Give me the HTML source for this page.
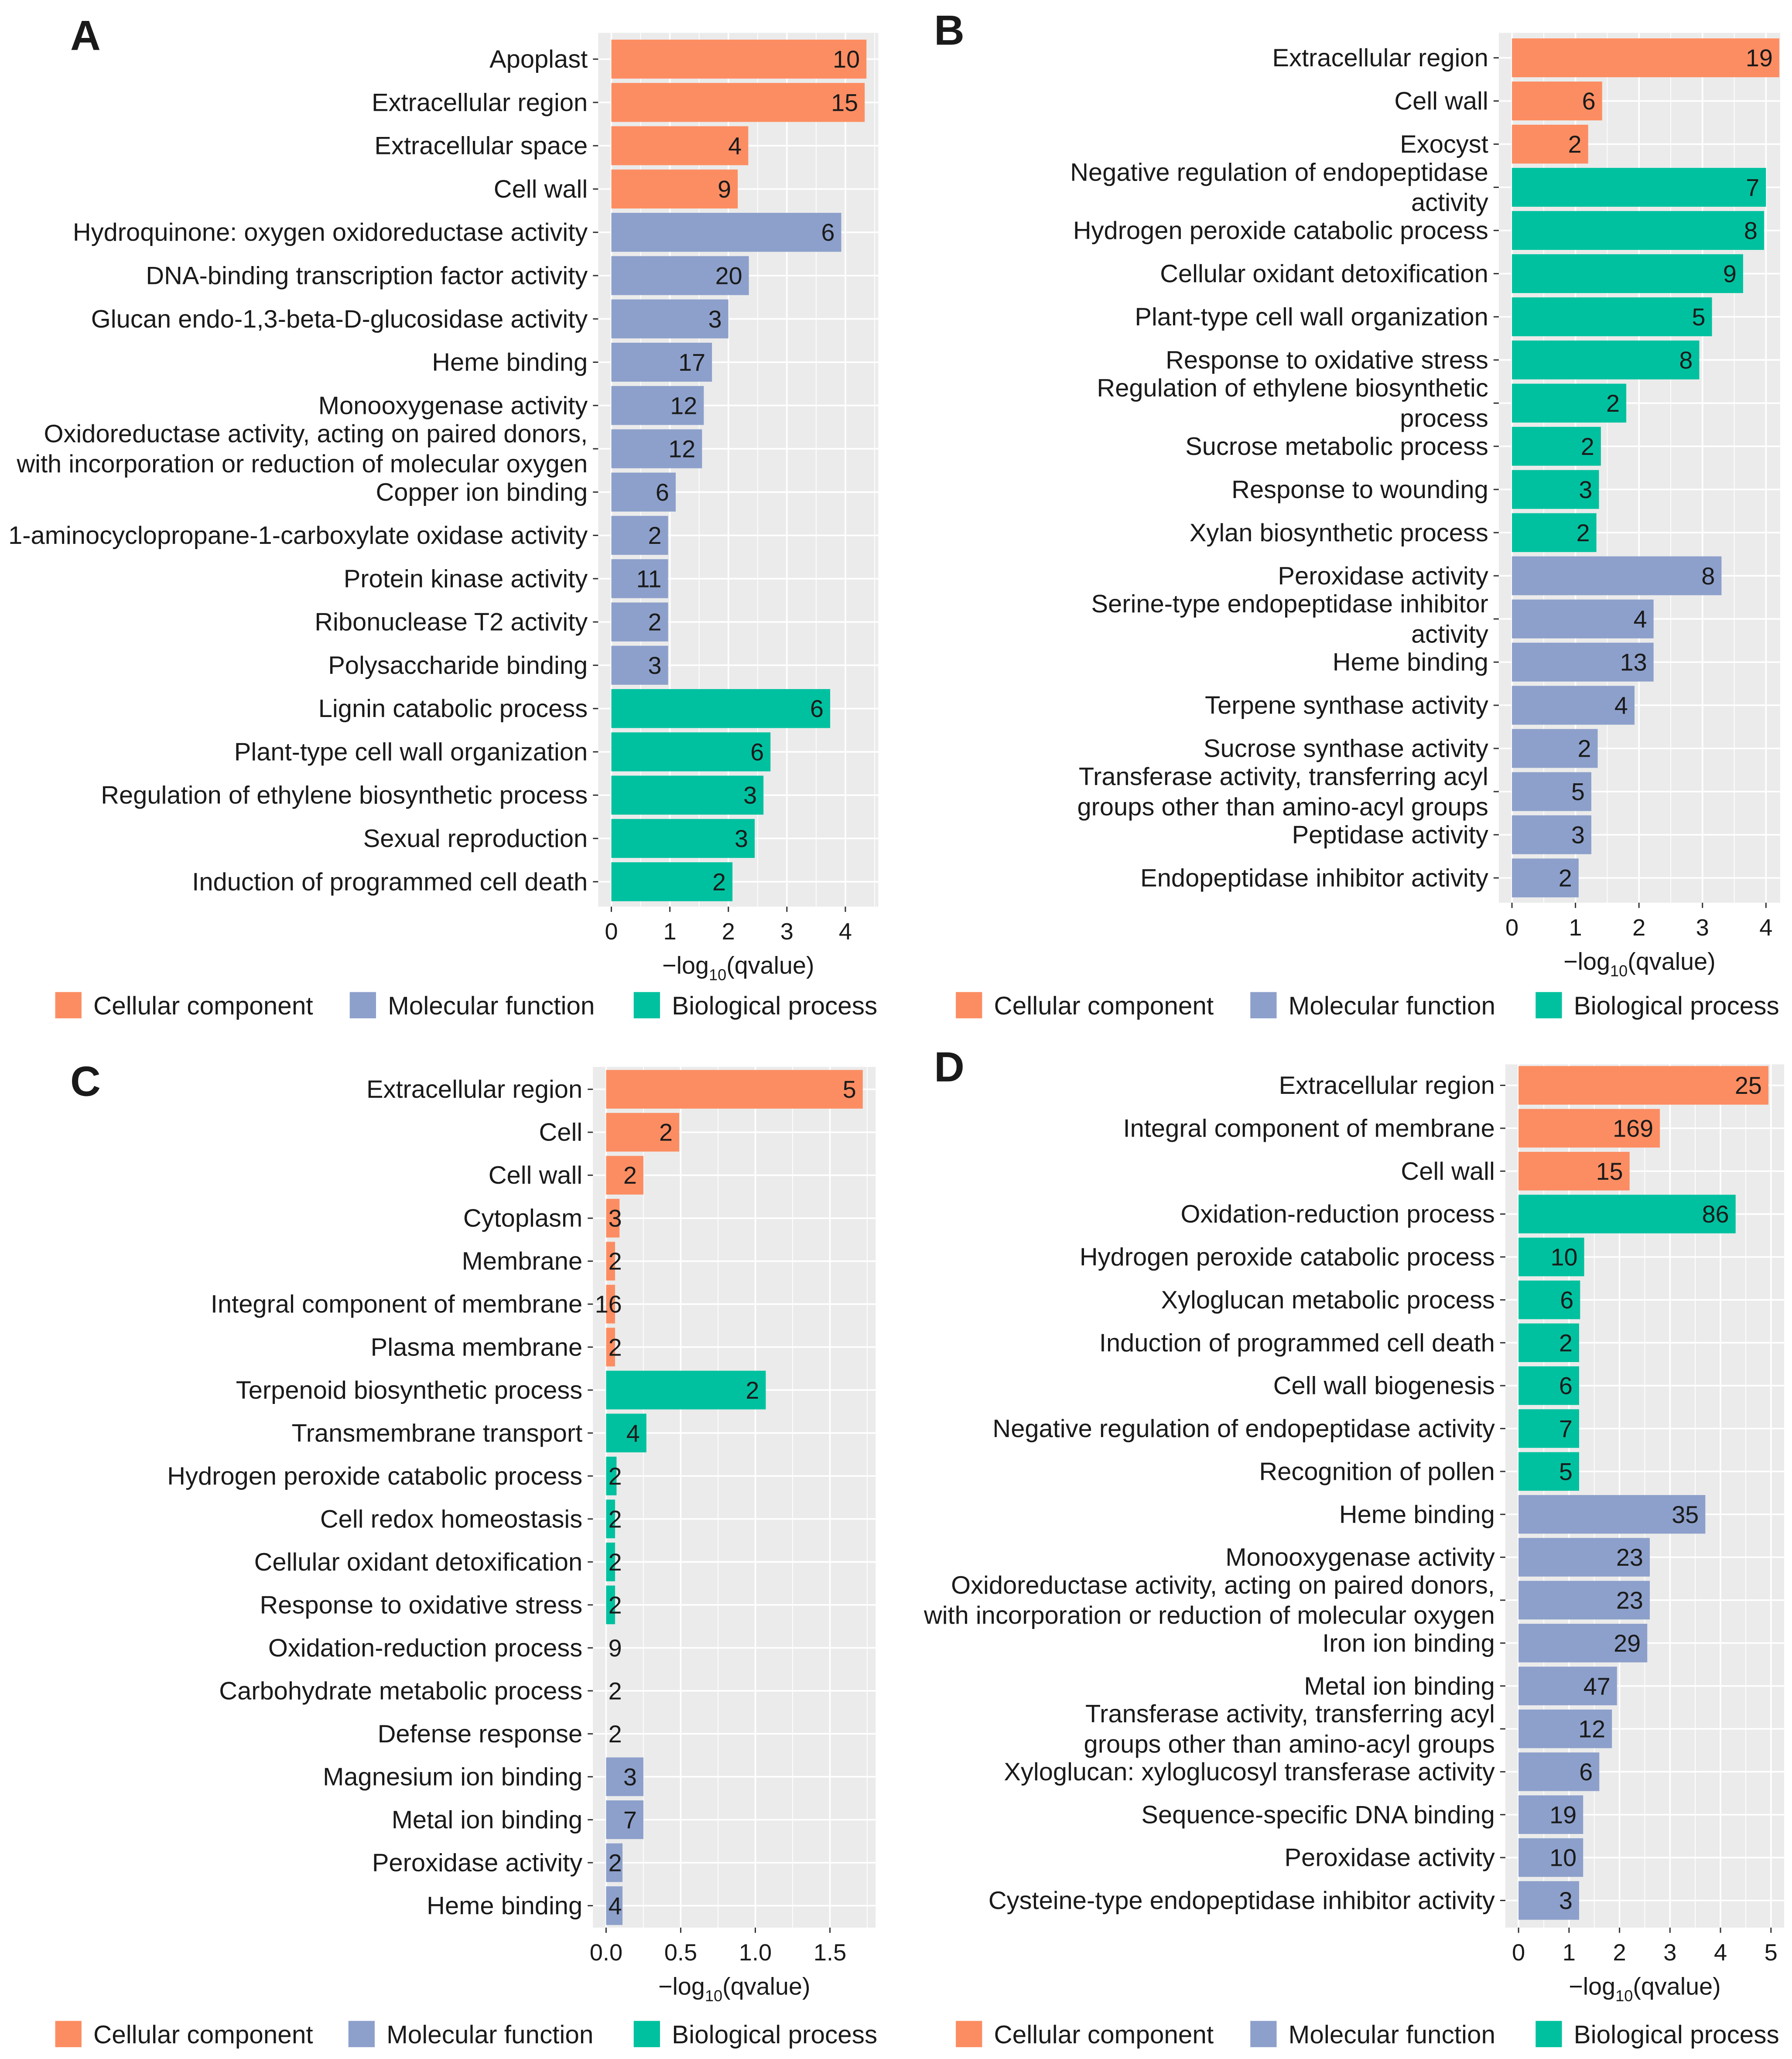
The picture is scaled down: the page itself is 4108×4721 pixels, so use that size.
<!DOCTYPE html>
<html><head><meta charset="utf-8"><style>
html,body{margin:0;padding:0;background:#fff}
svg{display:block}
text{font-family:"Liberation Sans",Arial,sans-serif;fill:#1a1a1a}
</style></head><body>
<svg id="fig" xmlns="http://www.w3.org/2000/svg" width="4108" height="4721" viewBox="0 0 1363 1567" preserveAspectRatio="none"></svg>
<script>
const NS="http://www.w3.org/2000/svg";
const COLORS={CC:"#FC8D62",MF:"#8DA0CB",BP:"#00C19F"};

const catsA=["Apoplast","Extracellular region","Extracellular space","Cell wall","Hydroquinone: oxygen oxidoreductase activity","DNA-binding transcription factor activity","Glucan endo-1,3-beta-D-glucosidase activity","Heme binding","Monooxygenase activity","Oxidoreductase activity, acting on paired donors,\nwith incorporation or reduction of molecular oxygen","Copper ion binding","1-aminocyclopropane-1-carboxylate oxidase activity","Protein kinase activity","Ribonuclease T2 activity","Polysaccharide binding","Lignin catabolic process","Plant-type cell wall organization","Regulation of ethylene biosynthetic process","Sexual reproduction","Induction of programmed cell death"];
const valsA=[4.36,4.33,2.34,2.16,3.93,2.35,2.0,1.72,1.58,1.55,1.1,0.97,0.97,0.97,0.97,3.74,2.72,2.6,2.45,2.07];
const countsA=[10,15,4,9,6,20,3,17,12,12,6,2,11,2,3,6,6,3,3,2];
const typesA=["CC","CC","CC","CC","MF","MF","MF","MF","MF","MF","MF","MF","MF","MF","MF","BP","BP","BP","BP","BP"];
const ticksA=[0,1,2,3,4];

const catsB=["Extracellular region","Cell wall","Exocyst","Negative regulation of endopeptidase\nactivity","Hydrogen peroxide catabolic process","Cellular oxidant detoxification","Plant-type cell wall organization","Response to oxidative stress","Regulation of ethylene biosynthetic\nprocess","Sucrose metabolic process","Response to wounding","Xylan biosynthetic process","Peroxidase activity","Serine-type endopeptidase inhibitor\nactivity","Heme binding","Terpene synthase activity","Sucrose synthase activity","Transferase activity, transferring acyl\ngroups other than amino-acyl groups","Peptidase activity","Endopeptidase inhibitor activity"];
const valsB=[4.21,1.42,1.2,4.0,3.97,3.64,3.15,2.95,1.8,1.4,1.37,1.33,3.3,2.23,2.23,1.93,1.35,1.25,1.25,1.05];
const countsB=[19,6,2,7,8,9,5,8,2,2,3,2,8,4,13,4,2,5,3,2];
const typesB=["CC","CC","CC","BP","BP","BP","BP","BP","BP","BP","BP","BP","MF","MF","MF","MF","MF","MF","MF","MF"];
const ticksB=[0,1,2,3,4];

const catsC=["Extracellular region","Cell","Cell wall","Cytoplasm","Membrane","Integral component of membrane","Plasma membrane","Terpenoid biosynthetic process","Transmembrane transport","Hydrogen peroxide catabolic process","Cell redox homeostasis","Cellular oxidant detoxification","Response to oxidative stress","Oxidation-reduction process","Carbohydrate metabolic process","Defense response","Magnesium ion binding","Metal ion binding","Peroxidase activity","Heme binding"];
const valsC=[1.72,0.49,0.25,0.09,0.06,0.06,0.06,1.07,0.27,0.07,0.06,0.06,0.06,0,0,0,0.25,0.25,0.11,0.11];
const countsC=[5,2,2,3,2,16,2,2,4,2,2,2,2,9,2,2,3,7,2,4];
const typesC=["CC","CC","CC","CC","CC","CC","CC","BP","BP","BP","BP","BP","BP","BP","BP","BP","MF","MF","MF","MF"];
const ticksC=[0,0.5,1.0,1.5];

const catsD=["Extracellular region","Integral component of membrane","Cell wall","Oxidation-reduction process","Hydrogen peroxide catabolic process","Xyloglucan metabolic process","Induction of programmed cell death","Cell wall biogenesis","Negative regulation of endopeptidase activity","Recognition of pollen","Heme binding","Monooxygenase activity","Oxidoreductase activity, acting on paired donors,\nwith incorporation or reduction of molecular oxygen","Iron ion binding","Metal ion binding","Transferase activity, transferring acyl\ngroups other than amino-acyl groups","Xyloglucan: xyloglucosyl transferase activity","Sequence-specific DNA binding","Peroxidase activity","Cysteine-type endopeptidase inhibitor activity"];
const valsD=[4.95,2.8,2.2,4.3,1.3,1.22,1.2,1.2,1.2,1.2,3.7,2.6,2.6,2.55,1.95,1.85,1.6,1.28,1.28,1.2];
const countsD=[25,169,15,86,10,6,2,6,7,5,35,23,23,29,47,12,6,19,10,3];
const typesD=["CC","CC","CC","BP","BP","BP","BP","BP","BP","BP","MF","MF","MF","MF","MF","MF","MF","MF","MF","MF"];
const ticksD=[0,1,2,3,4,5];

const svg=document.getElementById("fig");
function el(tag,attrs,parent){const e=document.createElementNS(NS,tag);for(const k in attrs)e.setAttribute(k,attrs[k]);(parent||svg).appendChild(e);return e;}

function panel(cfg,cats,vals,counts,types,ticks){
  const g=el("g",{});
  
  
  const {pl,pr,pt,pb,x0,unit,y0,step,letter}=cfg;
  const xs=v=>x0+v*unit;
  const ys=i=>y0+i*step;
  const bg=el("rect",{x:pl,y:pt,width:pr-pl,height:pb-pt,fill:"#EBEBEB"},g);
  
  
  const tstep=ticks[1]-ticks[0];
  for(let t=ticks[0]-tstep/2;xs(t)<=pr;t+=tstep){ if(xs(t)>=pl) el("line",{x1:xs(t),x2:xs(t),y1:pt,y2:pb,stroke:"#fff","stroke-width":0.6},g);}
  ticks.forEach(t=>{const l=el("line",{x1:xs(t),x2:xs(t),y1:pt,y2:pb,stroke:"#fff","stroke-width":1.2},g);
    });
  cats.forEach((c,i)=>{el("line",{x1:pl,x2:pr,y1:ys(i),y2:ys(i),stroke:"#fff","stroke-width":1.2},g);});
  cats.forEach((c,i)=>{
    const y=ys(i);
    const w=Math.max(0,xs(vals[i])-x0);
    const b=el("rect",{x:x0,y:y-step*0.45,width:w,height:step*0.9,fill:COLORS[types[i]]},g);
    
    
    const tx=Math.max(xs(vals[i])-5,x0+12);
    const n=el("text",{x:tx,y:y+6.5,"font-size":18.5,"text-anchor":"end"},g);
    n.textContent=counts[i];
    
    
    el("line",{x1:pl-4,x2:pl,y1:y,y2:y,stroke:"#333","stroke-width":1},g);
    const lines=c.split("\n");
    const lab=el("text",{x:pl-8,"font-size":19.2,"text-anchor":"end"},g);
    
    
    lines.forEach((ln,k)=>{const ts=el("tspan",{x:pl-8,y:y+6.5+(k-(lines.length-1)/2)*23},lab);ts.textContent=ln;});
  });
  ticks.forEach(t=>{
    el("line",{x1:xs(t),x2:xs(t),y1:pb,y2:pb+4,stroke:"#333","stroke-width":1},g);
    const tl=el("text",{x:xs(t),y:pb+25,"font-size":18,"text-anchor":"middle"},g);
    tl.textContent=(ticks[1]-ticks[0]<1)?t.toFixed(1):t;
    
    
  });
  const cx=(pl+pr)/2;
  const tt=el("text",{x:cx,y:pb+51,"font-size":18.5,"text-anchor":"middle"},g);
  
  
  let s=el("tspan",{},tt);s.textContent="\u2212log";
  s=el("tspan",{"font-size":12,dy:5},tt);s.textContent="10";
  s=el("tspan",{dy:-5},tt);s.textContent="(qvalue)";
  const L=el("text",{x:cfg.lx,y:cfg.ly,"font-size":32,"font-weight":"bold","text-anchor":"middle"},g);
  L.textContent=letter;
  
  
  const leg=el("g",{},g);
  
  
  const names=[["CC","Cellular component"],["MF","Molecular function"],["BP","Biological process"]];
  names.forEach(([k,n],j)=>{
    const sx=cfg.legx[j];
    const r=el("rect",{x:sx,y:cfg.legy-10,width:20,height:20,fill:COLORS[k]},leg);
    
    const t=el("text",{x:sx+29,y:cfg.legy+7,"font-size":19.4},leg);
    t.textContent=n;
    
  });
}

panel({letter:"A",lx:65,ly:38,pl:455,pr:668,pt:25,pb:690,x0:465,unit:44.5,y0:45,step:32.95,legx:[42,266,482],legy:765},catsA,valsA,countsA,typesA,ticksA);
panel({letter:"B",lx:722,ly:34,pl:1140,pr:1354,pt:25,pb:687,x0:1150,unit:48.3,y0:44,step:32.85,legx:[727,951,1168],legy:765},catsB,valsB,countsB,typesB,ticksB);
panel({letter:"C",lx:65,ly:834,pl:451,pr:666,pt:812,pb:1467,x0:461,unit:113.5,y0:829,step:32.7,legx:[42,265,482],legy:1548},catsC,valsC,countsC,typesC,ticksC);
panel({letter:"D",lx:722,ly:823,pl:1145,pr:1357,pt:810,pb:1467,x0:1155,unit:38.4,y0:826,step:32.65,legx:[727,951,1168],legy:1548},catsD,valsD,countsD,typesD,ticksD);
</script>
</body></html>
